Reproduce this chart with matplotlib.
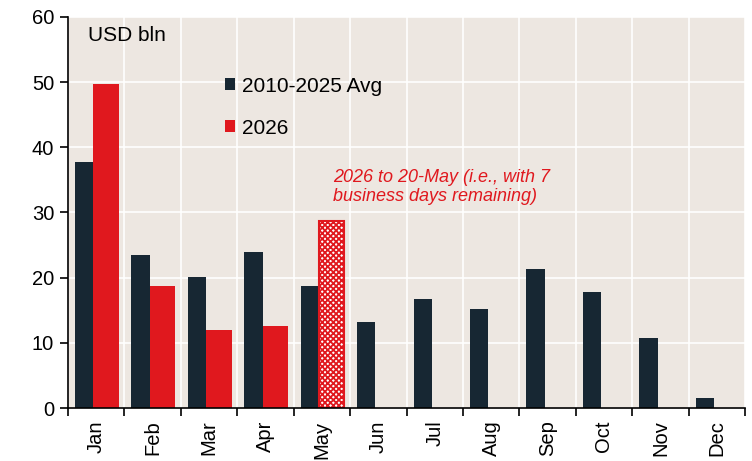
import matplotlib.pyplot as plt
import numpy as np

months = ["Jan", "Feb", "Mar", "Apr", "May", "Jun", "Jul", "Aug", "Sep", "Oct", "Nov", "Dec"]
avg = [37.7, 23.5, 20.1, 23.9, 18.7, 13.2, 16.7, 15.2, 21.3, 17.8, 10.7, 1.5]
y2026 = [49.7, 18.7, 12.0, 12.6]
may_partial = 28.7

bg = "#EDE7E1"
dark = "#172733"
red = "#E0181E"

plt.rcParams["font.family"] = ["Liberation Sans", "DejaVu Sans"]
plt.rcParams["hatch.linewidth"] = 1.3

fig = plt.figure(figsize=(7.52, 4.61), dpi=100)
ax = fig.add_axes([68 / 752, 1 - 408 / 461, (745 - 68) / 752, (408 - 17) / 461])
ax.set_facecolor(bg)

x = np.arange(len(months))
ax.bar(x + 0.125, avg, width=0.325, align="edge", color=dark, zorder=3,
       label="2010-2025 Avg")
ax.bar(x[:4] + 0.45, y2026, width=0.45, align="edge", color=red, zorder=3,
       label="2026")
ax.bar(4 + 0.45, may_partial, width=0.45, align="edge", facecolor="white",
       edgecolor=red, hatch="xxxxxx", linewidth=1.5, zorder=3)

ax.set_xlim(0, 12)
ax.set_ylim(0, 60)
ax.set_yticks(range(0, 61, 10))
ax.set_xticks(range(0, 13))
ax.set_xticklabels([])
ax.set_xticks(x + 0.5, minor=True)
ax.set_xticklabels(months, minor=True, rotation=90, fontsize=14.5)
ax.tick_params(axis="x", which="minor", length=0, pad=9)
ax.tick_params(axis="x", which="major", length=6, width=1.2, direction="out")
ax.tick_params(axis="y", length=6, width=1.2, labelsize=14.5, pad=4)

ax.grid(True, which="major", color="white", linewidth=1.2, zorder=0)
for s in ["top", "right"]:
    ax.spines[s].set_visible(False)
for s in ["left", "bottom"]:
    ax.spines[s].set_linewidth(1.2)
    ax.spines[s].set_zorder(4)

ax.text(0.35, 58.6, "USD bln", fontsize=15, va="top", ha="left")

ax.legend(loc="upper left", bbox_to_anchor=(0.232, 0.847), frameon=False,
          fontsize=15, handlelength=0.5, handleheight=0.5, labelspacing=1.1,
          handletextpad=0.3, borderpad=0, borderaxespad=0)

ax.text(4.70, 36.7, "2026 to 20-May (i.e., with 7\nbusiness days remaining)",
        color=red, style="italic", fontsize=13, va="top", ha="left",
        linespacing=1.2)

fig.savefig("out.png", dpi=100, facecolor="white")
